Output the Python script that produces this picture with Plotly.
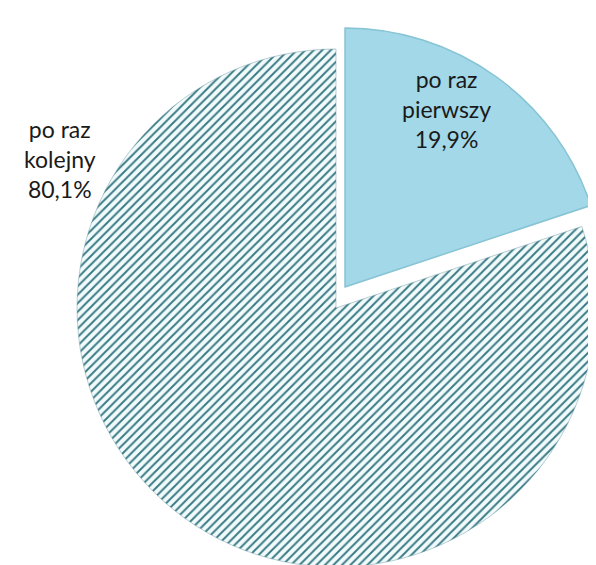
import plotly.graph_objects as go

# ---- data ----
labels = ["po raz pierwszy", "po raz kolejny"]
label_lines = [["po raz", "pierwszy"], ["po raz", "kolejny"]]
values = [19.9, 80.1]

W, H = 596, 565
R = 259
cxA, cyA = 328, 300     # main pie centre (px from top-left)
cxB, cyB = 337, 279     # exploded slice centre

def dom(cx, cy, r):
    return dict(x=[max(0.0, (cx - r) / W), min(1.0, (cx + r) / W)],
                y=[max(0.0, (H - (cy + r)) / H), min(1.0, (H - (cy - r)) / H)])

clear = "rgba(0,0,0,0)"
fig = go.Figure()

# big hatched slice
fig.add_trace(go.Pie(
    labels=labels, values=values, sort=False, direction="clockwise", rotation=0,
    domain=dom(cxA, cyA, R), textinfo="none", hoverinfo="label+percent",
    marker=dict(colors=[clear, "#f2fbfc"],
                line=dict(color=[clear, "rgba(120,160,170,0.5)"], width=[0, 1]),
                pattern=dict(shape=["", "/"], fgcolor="#3a7a84", bgcolor="#f2fbfc",
                             size=6, solidity=0.32, fillmode="replace")),
    showlegend=False,
))

# exploded light-blue slice
fig.add_trace(go.Pie(
    labels=labels, values=values, sort=False, direction="clockwise", rotation=0,
    domain=dom(cxB, cyB, R), textinfo="none", hoverinfo="label+percent",
    marker=dict(colors=["#a2d8e8", clear],
                line=dict(color=["#86c3d4", clear], width=[1.5, 0])),
    showlegend=False,
))

def fmt(v):
    return f"{v:.1f}".replace(".", ",") + "%"

texts = ["<br>".join(label_lines[i] + [fmt(values[i])]) for i in range(len(values))]
positions = [(438, 101), (52, 151)]
for t, (px, py) in zip(texts, positions):
    fig.add_annotation(text=t, x=px / W, y=1 - py / H, xref="paper", yref="paper",
                       showarrow=False, xanchor="center", yanchor="middle",
                       font=dict(family="Lato", size=23, color="#1a1a1a"), align="center")

fig.update_layout(width=W, height=H, margin=dict(l=0, r=0, t=0, b=0),
                  paper_bgcolor="white", plot_bgcolor="white")

fig.write_html("out.html")
